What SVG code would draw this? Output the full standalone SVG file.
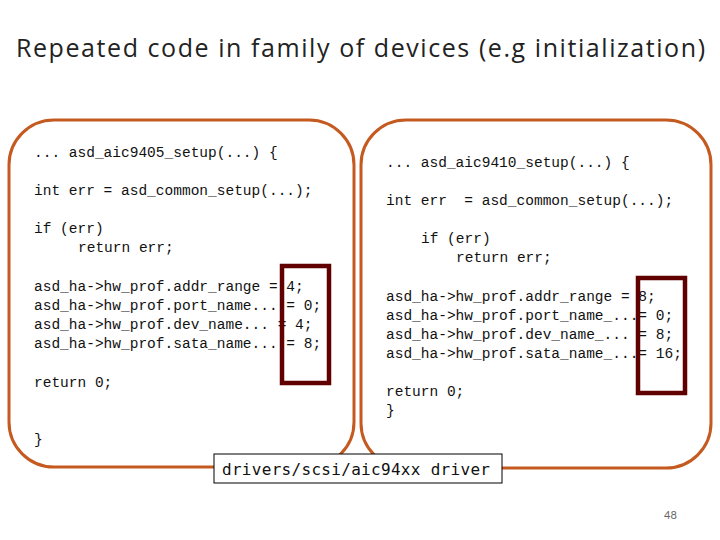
<svg xmlns="http://www.w3.org/2000/svg" width="720" height="540" viewBox="0 0 720 540">
<style>
.box{fill:none;stroke:#c55a20;stroke-width:3}
.hl{fill:none;stroke:#600000;stroke-width:4.5}
.code{font-family:"Liberation Mono",monospace;font-size:14.5px;fill:#111;white-space:pre}
</style>
<rect width="720" height="540" fill="#fff"/>
<text x="16" y="57" font-family="'Open Sans','Liberation Sans',sans-serif" font-size="25" fill="#222" textLength="689">Repeated code in family of devices (e.g initialization)</text>
<g id="left">
<rect class="box" x="9" y="120" width="345" height="347" rx="45"/>
<text class="code" x="34" y="157">... asd_aic9405_setup(...) {</text>
<text class="code" x="34" y="195">int err = asd_common_setup(...);</text>
<text class="code" x="34" y="233">if (err)</text>
<text class="code" x="78" y="252">return err;</text>
<text class="code" x="34" y="291">asd_ha-&gt;hw_prof.addr_range = 4;</text>
<text class="code" x="34" y="310">asd_ha-&gt;hw_prof.port_name... = 0;</text>
<text class="code" x="34" y="329">asd_ha-&gt;hw_prof.dev_name... = 4;</text>
<text class="code" x="34" y="348">asd_ha-&gt;hw_prof.sata_name... = 8;</text>
<text class="code" x="34" y="387">return 0;</text>
<text class="code" x="34" y="444">}</text>
<rect class="hl" x="282" y="266" width="47" height="117"/>
</g>
<g id="right">
<rect class="box" x="361" y="120" width="350" height="348" rx="45"/>
<text class="code" x="386" y="167">... asd_aic9410_setup(...) {</text>
<text class="code" x="386" y="205" xml:space="preserve">int err  = asd_common_setup(...);</text>
<text class="code" x="421" y="243">if (err)</text>
<text class="code" x="456" y="262">return err;</text>
<text class="code" x="386" y="301">asd_ha-&gt;hw_prof.addr_range = 8;</text>
<text class="code" x="386" y="320">asd_ha-&gt;hw_prof.port_name_...= 0;</text>
<text class="code" x="386" y="339">asd_ha-&gt;hw_prof.dev_name_... = 8;</text>
<text class="code" x="386" y="358">asd_ha-&gt;hw_prof.sata_name_...= 16;</text>
<text class="code" x="386" y="396">return 0;</text>
<text class="code" x="386" y="415">}</text>
<rect class="hl" x="638" y="278" width="47" height="115"/>
</g>
<g id="label">
<rect x="214" y="454" width="288" height="29" fill="#fff" stroke="#000" stroke-width="1"/>
<text x="222" y="475" font-family="'DejaVu Sans Mono',monospace" font-size="16" fill="#111" textLength="268">drivers/scsi/aic94xx driver</text>
</g>
<text x="664" y="519" font-family="Lato,sans-serif" font-size="11" fill="#666">48</text>
</svg>
